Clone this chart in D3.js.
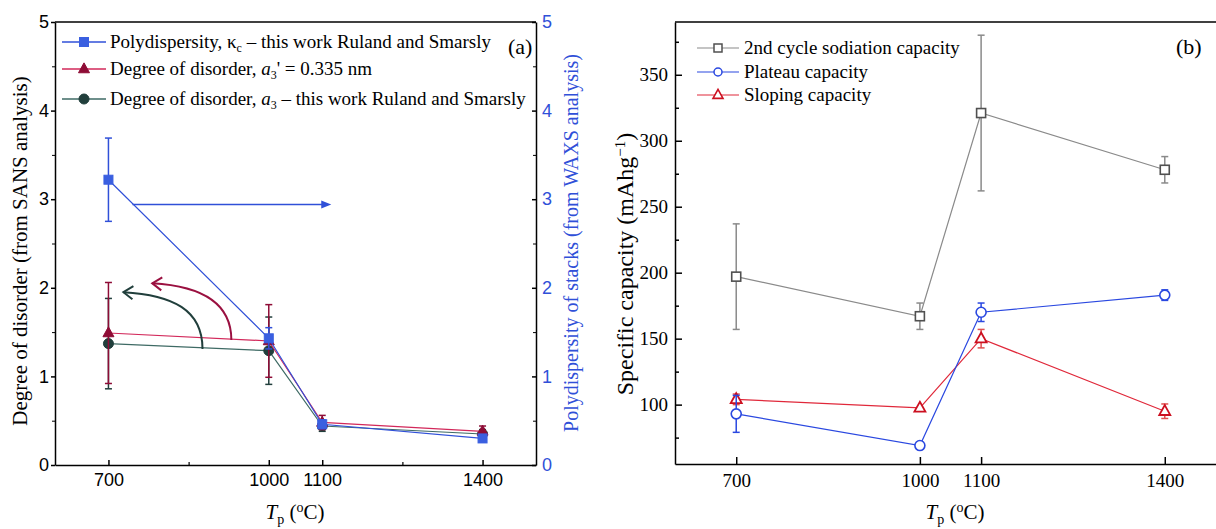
<!DOCTYPE html>
<html>
<head>
<meta charset="utf-8">
<script src="https://cdn.jsdelivr.net/npm/d3@7"></script>
<style>
  html, body { margin: 0; padding: 0; background: #fff; }
  svg { display: block; }
  .serif { font-family: "Liberation Serif", "Times New Roman", serif; }
  .sans { font-family: "Liberation Sans", Arial, sans-serif; }
</style>
</head>
<body>
<svg id="chart" width="1216" height="529"></svg>
<script>
// ---- data, panel (a) ----
const temps = [700, 1000, 1100, 1400];
const polyVal = [3.22, 1.43, 0.46, 0.30];
const polyErr = [0.47, 0.12, 0.05, 0.04];
const disPrimeVal = [1.49, 1.40, 0.48, 0.38];
const disPrimeErr = [0.57, 0.41, 0.08, 0.06];
const disVal = [1.37, 1.29, 0.44, 0.35];
const disErr = [0.51, 0.38, 0.06, 0.05];
const xTicksA = [700, 1000, 1100, 1400];
const xMinorA = [850, 1250];
const yTicksA = [0, 1, 2, 3, 4, 5];
const yMinorA = [0.5, 1.5, 2.5, 3.5, 4.5];

// ---- data, panel (b) ----
const sodVal = [197, 167, 321, 278];
const sodErr = [40, 10, 59, 10];
const platVal = [93, 69, 170, 183];
const platErr = [14, 0, 7, 4];
const slopVal = [104, 97.5, 150, 95];
const slopErr = [4, 0, 7, 5.5];
const xTicksB = [700, 1000, 1100, 1400];
const yTicksB = [100, 150, 200, 250, 300, 350];
const yMinorB = [75, 125, 175, 225, 275, 325, 375];

const SERIF = '"Liberation Serif", "Times New Roman", serif';
const svg = d3.select('#chart');

function series(vals, errs) {
  return temps.map((t, i) => ({ x: t, y: vals[i], e: errs[i] }));
}

// draws line + error bars + markers
function drawSeries(g, x, y, data, o) {
  const line = d3.line().x(d => x(d.x)).y(d => y(d.y));
  g.append('path').datum(data)
    .attr('d', line).attr('fill', 'none')
    .attr('stroke', o.line).attr('stroke-width', o.lw || 1.2);
  const eb = g.append('g').attr('stroke', o.err || o.line).attr('stroke-width', 1.5);
  data.filter(d => d.e > 0).forEach(d => {
    const cx = x(d.x);
    eb.append('line').attr('x1', cx).attr('x2', cx).attr('y1', y(d.y - d.e)).attr('y2', y(d.y + d.e));
    [d.y - d.e, d.y + d.e].forEach(v => {
      eb.append('line').attr('x1', cx - 3.5).attr('x2', cx + 3.5).attr('y1', y(v)).attr('y2', y(v));
    });
  });
  data.forEach(d => drawMarker(g, x(d.x), y(d.y), o));
}

function drawMarker(g, cx, cy, o) {
  const s = o.size;
  let m;
  if (o.shape === 'square') {
    m = g.append('rect').attr('x', cx - s / 2).attr('y', cy - s / 2).attr('width', s).attr('height', s);
  } else if (o.shape === 'circle') {
    m = g.append('circle').attr('cx', cx).attr('cy', cy).attr('r', s / 2);
  } else {
    const h = s * 0.9;
    m = g.append('path').attr('d', `M${cx},${cy - h * 0.62}L${cx + s / 2},${cy + h * 0.38}L${cx - s / 2},${cy + h * 0.38}Z`);
  }
  m.attr('fill', o.fill).attr('stroke', o.mstroke || o.fill).attr('stroke-width', o.msw || 1);
}

function styleAxis(g, color, cls, size) {
  g.selectAll('path, line').attr('stroke', color).attr('stroke-width', 1.5);
  g.selectAll('text').attr('fill', color).attr('class', cls).style('font-size', size + 'px');
}

function serifText(g) {
  return g.append('text').attr('class', 'serif').style('font-family', SERIF);
}

// ================= panel (a) =================
const A = { l: 55, r: 536, t: 22, b: 465 };
const xa = d3.scaleLinear().domain([600, 1500]).range([A.l, A.r]);
const ya = d3.scaleLinear().domain([0, 5]).range([A.b, A.t]);
const yaR = d3.scaleLinear().domain([0, 5]).range([A.b, A.t]);
const ga = svg.append('g');

const blueA = '#3050d8', redA = '#d2285a', redMk = '#8e0c36', greenA = '#3e6a64', greenMk = '#213f3c';

// frame top
ga.append('line').attr('x1', A.l).attr('x2', A.r).attr('y1', A.t).attr('y2', A.t).attr('stroke', '#000').attr('stroke-width', 1.5);

const axBA = ga.append('g').attr('transform', `translate(0,${A.b})`)
  .call(d3.axisBottom(xa).tickValues(xTicksA).tickSize(-5).tickSizeOuter(0).tickPadding(8).tickFormat(d3.format('d')));
styleAxis(axBA, '#000', 'sans', 18);
ga.append('g').attr('transform', `translate(0,${A.b})`)
  .call(d3.axisBottom(xa).tickValues(xMinorA).tickSize(-3).tickSizeOuter(0).tickFormat(''))
  .call(g => { g.select('.domain').remove(); g.selectAll('line').attr('stroke', '#000').attr('stroke-width', 1.2); });

const axLA = ga.append('g').attr('transform', `translate(${A.l},0)`)
  .call(d3.axisLeft(ya).tickValues(yTicksA).tickSize(4).tickSizeOuter(0).tickPadding(2).tickFormat(d3.format('d')));
styleAxis(axLA, '#000', 'sans', 18);
ga.append('g').attr('transform', `translate(${A.l},0)`)
  .call(d3.axisLeft(ya).tickValues(yMinorA).tickSize(3).tickSizeOuter(0).tickFormat(''))
  .call(g => { g.select('.domain').remove(); g.selectAll('line').attr('stroke', '#000'); });

const axRA = ga.append('g').attr('transform', `translate(${A.r},0)`)
  .call(d3.axisRight(yaR).tickValues(yTicksA).tickSize(-4).tickSizeOuter(0).tickPadding(6).tickFormat(d3.format('d')));
styleAxis(axRA, blueA, 'sans', 18);
axRA.selectAll('path, line').attr('stroke', '#000');
ga.append('g').attr('transform', `translate(${A.r},0)`)
  .call(d3.axisRight(yaR).tickValues(yMinorA).tickSize(-3).tickSizeOuter(0).tickFormat(''))
  .call(g => { g.select('.domain').remove(); g.selectAll('line').attr('stroke', '#000'); });

// series
drawSeries(ga, xa, ya, series(disVal, disErr), { line: greenA, err: greenMk, shape: 'circle', size: 10, fill: greenMk });
drawSeries(ga, xa, ya, series(disPrimeVal, disPrimeErr), { line: redA, err: redMk, shape: 'triangle', size: 11, fill: redMk });
drawSeries(ga, xa, yaR, series(polyVal, polyErr), { line: blueA, err: blueA, shape: 'square', size: 9, fill: '#3a5fe0' });

// annotation arrows (data units)
const blueArrow = [[745, 2.94], [1100, 2.94]];
ga.append('line')
  .attr('x1', xa(blueArrow[0][0])).attr('y1', yaR(blueArrow[0][1]))
  .attr('x2', xa(blueArrow[1][0])).attr('y2', yaR(blueArrow[1][1]))
  .attr('stroke', blueA).attr('stroke-width', 1.5);
{
  const ex = xa(blueArrow[1][0]), ey = yaR(blueArrow[1][1]);
  ga.append('path').attr('d', `M${ex + 9},${ey}L${ex - 1},${ey - 4}L${ex - 1},${ey + 4}Z`).attr('fill', blueA);
}
function curvedArrow(pts, color) {
  const p = pts.map(d => [xa(d[0]), ya(d[1])]);
  ga.append('path')
    .attr('d', `M${p[0]}C${p[1]} ${p[2]} ${p[3]}`)
    .attr('fill', 'none').attr('stroke', color).attr('stroke-width', 2);
  const [hx, hy] = p[3];
  ga.append('path')
    .attr('d', `M${hx + 10},${hy - 6}L${hx},${hy}L${hx + 9},${hy + 7}`)
    .attr('fill', 'none').attr('stroke', color).attr('stroke-width', 2);
}
curvedArrow([[930, 1.41], [930, 1.85], [870, 2.02], [782, 2.05]], '#9a1040');
curvedArrow([[876, 1.31], [876, 1.75], [820, 1.92], [728, 1.95]], greenMk);

// legend (a)
const legA = [
  { y: 42, line: blueA, shape: 'square', size: 9, fill: '#3a5fe0' },
  { y: 69, line: redA, shape: 'triangle', size: 11, fill: redMk },
  { y: 99, line: greenA, shape: 'circle', size: 10, fill: greenMk }
];
legA.forEach(d => {
  ga.append('line').attr('x1', 62).attr('x2', 106).attr('y1', d.y).attr('y2', d.y).attr('stroke', d.line).attr('stroke-width', 1.3);
  drawMarker(ga, 84, d.y, d);
});
const lt1 = serifText(ga).attr('x', 110).attr('y', 48).style('font-size', '19px');
lt1.append('tspan').text('Polydispersity, κ');
lt1.append('tspan').attr('dy', 4).style('font-size', '12px').text('c');
lt1.append('tspan').attr('dy', -4).text(' – this work Ruland and Smarsly');
const lt2 = serifText(ga).attr('x', 110).attr('y', 75).style('font-size', '19px');
lt2.append('tspan').text('Degree of disorder, ');
lt2.append('tspan').style('font-style', 'italic').text('a');
lt2.append('tspan').attr('dy', 4).style('font-size', '12px').text('3');
lt2.append('tspan').attr('dy', -4).text("' = 0.335 nm");
const lt3 = serifText(ga).attr('x', 110).attr('y', 105).style('font-size', '19px');
lt3.append('tspan').text('Degree of disorder, ');
lt3.append('tspan').style('font-style', 'italic').text('a');
lt3.append('tspan').attr('dy', 4).style('font-size', '12px').text('3');
lt3.append('tspan').attr('dy', -4).text(' – this work Ruland and Smarsly');

serifText(ga).attr('x', 508).attr('y', 54).style('font-size', '22px').text('(a)');

// axis titles (a)
serifText(ga).attr('transform', 'translate(27,251) rotate(-90)')
  .attr('text-anchor', 'middle').style('font-size', '21px').text('Degree of disorder (from SANS analysis)');
serifText(ga).attr('transform', 'translate(578,243) rotate(-90)')
  .attr('text-anchor', 'middle').attr('fill', blueA).style('font-size', '20px').text('Polydispersity of stacks (from WAXS analysis)');

function xTitle(g, cx, y) {
  const t = serifText(g).attr('x', cx).attr('y', y).attr('text-anchor', 'middle').style('font-size', '21px');
  t.append('tspan').style('font-style', 'italic').text('T');
  t.append('tspan').attr('dy', 5).style('font-size', '14px').text('p');
  t.append('tspan').attr('dy', -5).text(' (');
  t.append('tspan').attr('dy', -7).style('font-size', '14px').text('o');
  t.append('tspan').attr('dy', 7).text('C)');
}
xTitle(ga, 295, 519);

// ================= panel (b) =================
const B = { l: 675, r: 1226, t: 22, b: 464 };
const xb = d3.scaleLinear().domain([600, 1500]).range([B.l, B.r]);
const yb = d3.scaleLinear().domain([55, 390]).range([B.b, B.t]);
const gb = svg.append('g');

gb.append('line').attr('x1', B.l).attr('x2', B.r).attr('y1', B.t).attr('y2', B.t).attr('stroke', '#000').attr('stroke-width', 1.5);

const axBB = gb.append('g').attr('transform', `translate(0,${B.b})`)
  .call(d3.axisBottom(xb).tickValues(xTicksB).tickSize(-7).tickSizeOuter(0).tickPadding(10).tickFormat(d3.format('d')));
styleAxis(axBB, '#000', 'serif', 19);
const axLB = gb.append('g').attr('transform', `translate(${B.l},0)`)
  .call(d3.axisLeft(yb).tickValues(yTicksB).tickSize(-7).tickSizeOuter(0).tickPadding(7));
styleAxis(axLB, '#000', 'serif', 19);
gb.append('g').attr('transform', `translate(${B.l},0)`)
  .call(d3.axisLeft(yb).tickValues(yMinorB).tickSize(-4).tickSizeOuter(0).tickFormat(''))
  .call(g => { g.select('.domain').remove(); g.selectAll('line').attr('stroke', '#000').attr('stroke-width', 1.5); });

const grayB = '#8a8a8a', blueB = '#2a48e0', redB = '#e0283a';
drawSeries(gb, xb, yb, series(sodVal, sodErr), { line: grayB, err: grayB, lw: 1.2, shape: 'square', size: 9, fill: '#fff', mstroke: '#505050', msw: 1.6 });
drawSeries(gb, xb, yb, series(slopVal, slopErr), { line: redB, err: '#e05050', lw: 1.2, shape: 'triangle', size: 11, fill: '#fff', mstroke: '#cc1020', msw: 1.8 });
drawSeries(gb, xb, yb, series(platVal, platErr), { line: blueB, err: blueB, lw: 1.2, shape: 'circle', size: 10, fill: '#fff', mstroke: blueB, msw: 1.6 });

const legB = [
  { y: 48, line: grayB, shape: 'square', size: 8, fill: '#fff', mstroke: '#505050', msw: 1.5, label: '2nd cycle sodiation capacity' },
  { y: 72, line: blueB, shape: 'circle', size: 8, fill: '#fff', mstroke: blueB, msw: 1.5, label: 'Plateau capacity' },
  { y: 95, line: redB, shape: 'triangle', size: 10, fill: '#fff', mstroke: '#cc1020', msw: 1.6, label: 'Sloping capacity' }
];
legB.forEach(d => {
  gb.append('line').attr('x1', 697).attr('x2', 739).attr('y1', d.y).attr('y2', d.y).attr('stroke', d.line).attr('stroke-width', 1.2);
  drawMarker(gb, 718, d.y, d);
  serifText(gb).attr('x', 744).attr('y', d.y + 6).style('font-size', '19px').text(d.label);
});
serifText(gb).attr('x', 1176).attr('y', 54).style('font-size', '22px').text('(b)');

const ytb = serifText(gb).attr('transform', 'translate(633,264) rotate(-90)')
  .attr('text-anchor', 'middle').style('font-size', '24px');
ytb.append('tspan').text('Specific capacity (mAhg');
ytb.append('tspan').attr('dy', -8).style('font-size', '15px').text('−1');
ytb.append('tspan').attr('dy', 8).text(')');
xTitle(gb, 955, 519);
</script>
</body>
</html>
